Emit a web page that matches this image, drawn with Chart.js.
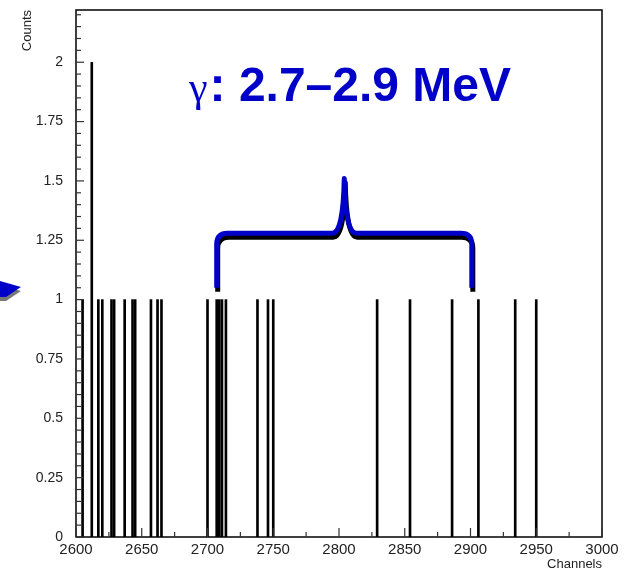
<!DOCTYPE html>
<html>
<head>
<meta charset="utf-8">
<script src="https://cdn.jsdelivr.net/npm/chart.js@4.4.1/dist/chart.umd.min.js"></script>
<style>
    html, body { margin: 0; padding: 0; background: #fff; }
    canvas { display: block; }
</style>
</head>
<body>
<canvas id="spectrumChart" width="630" height="574"></canvas>
<script>
// histogram entries: channel and counts
const channels = [2605, 2612, 2617, 2620, 2627, 2629, 2637, 2643, 2645, 2657, 2662, 2665,
    2700, 2707, 2709, 2711, 2714, 2738, 2746, 2750, 2829, 2854, 2886, 2906, 2934, 2950];
const counts = [1, 2, 1, 1, 1, 1, 1, 1, 1, 1, 1, 1,
    1, 1, 1, 1, 1, 1, 1, 1, 1, 1, 1, 1, 1, 1];

// axis tick labels
const xTickValues = [2600, 2650, 2700, 2750, 2800, 2850, 2900, 2950, 3000];
const yTickValues = [0, 0.25, 0.5, 0.75, 1, 1.25, 1.5, 1.75, 2];

// brace annotation (channel / counts units)
const braceFrom = 2707;
const braceTo = 2901;
const braceLevels = [1.05, 1.28, 1.51]; // foot, shoulder, peak

const blue = '#0000c8';

const framePlugin = {
    id: 'frame',
    afterDatasetsDraw(chart) {
        const ctx = chart.ctx;
        const a = chart.chartArea;
        const xs = chart.scales.x;
        const ys = chart.scales.y;
        ctx.save();
        ctx.strokeStyle = '#000';
        ctx.lineWidth = 1.5;
        ctx.strokeRect(a.left, a.top, a.right - a.left, a.bottom - a.top);

        // inward ticks on x axis
        ctx.lineWidth = 1.2;
        ctx.strokeStyle = '#333';
        for (let v = xs.min; v <= xs.max + 0.001; v += 25) {
            const px = xs.getPixelForValue(v);
            const len = (v % 50 === 0) ? 9 : 5;
            ctx.beginPath();
            ctx.moveTo(px, a.bottom);
            ctx.lineTo(px, a.bottom - len);
            ctx.stroke();
        }
        // inward ticks on y axis
        for (let i = 0; i * 0.05 <= ys.max; i++) {
            const py = ys.getPixelForValue(i * 0.05);
            const len = (i % 5 === 0) ? 8 : 5;
            ctx.beginPath();
            ctx.moveTo(a.left, py);
            ctx.lineTo(a.left + len, py);
            ctx.stroke();
        }
        ctx.restore();
    },
    afterDraw(chart) {
        const ctx = chart.ctx;
        const xs = chart.scales.x;
        const ys = chart.scales.y;

        // curly brace over 2.7-2.9 MeV
        const xl = xs.getPixelForValue(braceFrom);
        const xr = xs.getPixelForValue(braceTo);
        const xm = (xl + xr) / 2;
        const yb = ys.getPixelForValue(braceLevels[0]);
        const yh = ys.getPixelForValue(braceLevels[1]);
        const yp = ys.getPixelForValue(braceLevels[2]);
        const r = 11;
        function bracePath(dx, dy) {
            ctx.beginPath();
            ctx.moveTo(xl + dx, yb + dy);
            ctx.lineTo(xl + dx, yh + r + dy);
            ctx.quadraticCurveTo(xl + dx, yh + dy, xl + r + dx, yh + dy);
            ctx.lineTo(xm - 12 + dx, yh + dy);
            ctx.quadraticCurveTo(xm - 1 + dx, yh + dy, xm + dx, yp + dy);
            ctx.quadraticCurveTo(xm + 1 + dx, yh + dy, xm + 12 + dx, yh + dy);
            ctx.lineTo(xr - r + dx, yh + dy);
            ctx.quadraticCurveTo(xr + dx, yh + dy, xr + dx, yh + r + dy);
            ctx.lineTo(xr + dx, yb + dy);
            ctx.stroke();
        }
        ctx.save();
        ctx.lineWidth = 5;
        ctx.lineJoin = 'round';
        ctx.strokeStyle = '#000';
        bracePath(1, 4);
        ctx.strokeStyle = blue;
        bracePath(0, 0);

        // label
        ctx.fillStyle = blue;
        ctx.textBaseline = 'alphabetic';
        ctx.textAlign = 'left';
        ctx.font = '42px "Liberation Serif"';
        ctx.fillText('\u03b3', 189, 101);
        const gw = ctx.measureText('\u03b3').width;
        ctx.font = 'bold 48px "Liberation Sans"';
        ctx.fillText(': 2.7\u20132.9 MeV', 189 + gw + 2, 101);

        // arrow tip at left edge
        ctx.fillStyle = '#777';
        ctx.beginPath();
        ctx.moveTo(0, 285); ctx.lineTo(21, 291); ctx.lineTo(6, 301); ctx.lineTo(0, 301);
        ctx.closePath();
        ctx.fill();
        ctx.fillStyle = blue;
        ctx.beginPath();
        ctx.moveTo(0, 281); ctx.lineTo(21, 287); ctx.lineTo(6, 297); ctx.lineTo(0, 297);
        ctx.closePath();
        ctx.fill();
        ctx.restore();
    }
};

const ctxHist = document.getElementById('spectrumChart');

new Chart(ctxHist, {
    type: 'bar',
    data: {
        datasets: [{
            label: 'Counts',
            data: channels.map((c, i) => ({ x: c, y: counts[i] })),
            backgroundColor: '#000',
            borderWidth: 0,
            barThickness: 2
        }]
    },
    options: {
        responsive: false,
        animation: false,
        layout: {
            padding: { top: 10, right: 28, left: 0, bottom: 0 }
        },
        scales: {
            x: {
                type: 'linear',
                offset: false,
                min: 2600,
                max: 3000,
                grid: { display: false, drawTicks: false, offset: false },
                border: { display: false },
                afterBuildTicks: (scale) => {
                    scale.ticks = xTickValues.map(v => ({ value: v }));
                },
                afterFit: (scale) => { scale.height = 37; },
                ticks: {
                    autoSkip: false,
                    maxRotation: 0,
                    padding: 4,
                    color: '#222',
                    font: { family: 'Liberation Sans', size: 15 },
                    callback: (v) => String(v)
                },
                title: {
                    display: true,
                    text: 'Channels',
                    align: 'end',
                    color: '#222',
                    padding: { top: 0, bottom: 2 },
                    font: { family: 'Liberation Sans', size: 13 }
                }
            },
            y: {
                min: 0,
                max: 2.22,
                grid: { display: false, drawTicks: false },
                border: { display: false },
                afterBuildTicks: (scale) => {
                    scale.ticks = yTickValues.map(v => ({ value: v }));
                },
                afterFit: (scale) => {
                    scale.width = 76;
                    scale.paddingTop = 0;
                    scale.paddingBottom = 0;
                },
                ticks: {
                    padding: 13,
                    color: '#222',
                    font: { family: 'Liberation Sans', size: 14 },
                    callback: (v) => String(v)
                },
                title: {
                    display: true,
                    text: 'Counts',
                    align: 'end',
                    color: '#222',
                    padding: { top: 20, bottom: 0 },
                    font: { family: 'Liberation Sans', size: 13 }
                }
            }
        },
        plugins: {
            legend: { display: false },
            tooltip: { enabled: false }
        }
    },
    plugins: [framePlugin]
});
</script>
</body>
</html>
